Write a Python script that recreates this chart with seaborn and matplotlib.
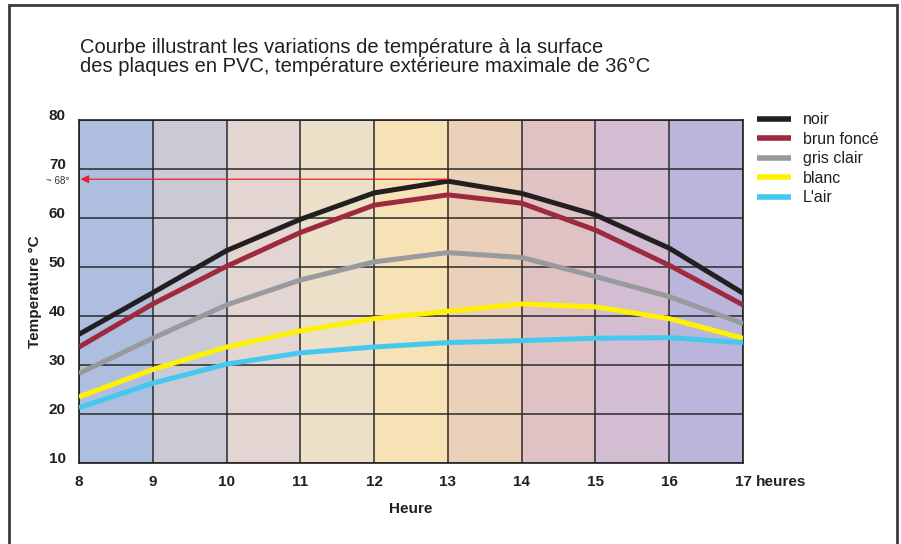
"""PVC surface temperature curves over the day."""

import matplotlib
matplotlib.use("Agg")
import matplotlib.pyplot as plt
import matplotlib.patches as mpatches
import matplotlib.transforms as mtransforms
import pandas as pd
import seaborn as sns

hours = [8, 9, 10, 11, 12, 13, 14, 15, 16, 17]
noir = [36.3, 44.8, 53.4, 59.8, 65.2, 67.6, 65.1, 60.7, 53.9, 44.7]
brun_fonce = [33.7, 42.5, 50.2, 57.1, 62.7, 64.8, 63.1, 57.6, 50.4, 42.3]
gris_clair = [28.3, 35.5, 42.3, 47.4, 51.1, 53.0, 52.0, 48.1, 44.0, 38.5]
blanc = [23.5, 29.1, 33.7, 37.0, 39.5, 41.0, 42.5, 41.9, 39.5, 35.5]
air = [21.3, 26.3, 30.2, 32.5, 33.7, 34.6, 35.0, 35.5, 35.6, 34.6]

series_names = ["noir", "brun foncé", "gris clair", "blanc", "L'air"]
series_colors = ["#231f20", "#9e2a3f", "#999a9e", "#fff200", "#45c8f0"]
band_colors = ["#aebedf", "#c9cad5", "#e2d5d2", "#ede0c8", "#f7e2b5",
               "#ecd1ba", "#e0c2c4", "#d3bdd2", "#bab6db"]
y_ticks = [10, 20, 30, 40, 50, 60, 70, 80]
x_labels = ["8", "9", "10", "11", "12", "13", "14", "15", "16", "17"]
peak_value = 68

sns.set_theme(style="white")
plt.rcParams["font.family"] = ["Liberation Sans", "DejaVu Sans"]
BOLD = dict(fontsize=11, fontweight="bold", color="#231f20")

frames = []
for name, vals in zip(series_names, [noir, brun_fonce, gris_clair, blanc, air]):
    frames.append(pd.DataFrame({"heure": hours, "temp": vals, "serie": name}))
df = pd.concat(frames, ignore_index=True)

fig = plt.figure(figsize=(9.01, 5.44), dpi=100)
ax = fig.add_axes([0.0877, 0.149, 0.737, 0.6295])

# coloured hour bands
for i, c in enumerate(band_colors):
    ax.axvspan(hours[i], hours[i + 1], color=c, zorder=0, lw=0)
for h in hours:
    ax.axvline(h, color="#2a2a2a", lw=1.1, zorder=1)
for t in y_ticks:
    ax.axhline(t, color="#2a2a2a", lw=1.1, zorder=1)

sns.lineplot(data=df, x="heure", y="temp", hue="serie", hue_order=series_names,
             palette=series_colors, lw=3.6, ax=ax, legend=False, zorder=3,
             solid_capstyle="butt")

# ~68 degree marker
ax.annotate("", xy=(hours[0] + 0.02, peak_value), xytext=(13.0, peak_value),
            arrowprops=dict(arrowstyle="-|>", color="#e8202a", lw=0.9,
                            mutation_scale=12, shrinkA=0, shrinkB=0), zorder=4)
ax.annotate("~ 68°", xy=(8, peak_value), xytext=(-7, -1.5), textcoords="offset points",
            fontsize=7, ha="right", va="center", color="#333333")

ax.set_xlim(8, 17)
ax.set_ylim(10, 80)
ax.set_xticks(hours)
ax.set_xticklabels(x_labels)
ax.set_yticks(y_ticks)
for lab in ax.get_xticklabels() + ax.get_yticklabels():
    lab.set_fontweight("bold")
    lab.set_fontsize(11)
    lab.set_color("#231f20")
# y labels sit just above their grid lines
for lab in ax.get_yticklabels():
    lab.set_verticalalignment("baseline")
ax.tick_params(axis="x", length=0, pad=9)
ax.tick_params(axis="y", length=0, pad=9.5)
for s in ax.spines.values():
    s.set_color("#231f20")
    s.set_linewidth(1.2)

trans = mtransforms.blended_transform_factory(ax.transData, ax.transAxes)
ax.annotate("heures", xy=(17, 0), xycoords=trans, xytext=(9.5, -9),
            textcoords="offset points", ha="left", va="top", **BOLD)

ax.set_xlabel("Heure", labelpad=9, **BOLD)
ax.set_ylabel("Temperature °C", labelpad=5, **BOLD)

handles = [plt.Line2D([], [], color=c, lw=4, solid_capstyle="butt") for c in series_colors]
fig.legend(handles, series_names, loc="upper left", bbox_to_anchor=(0.8315, 0.808),
           frameon=False, fontsize=11.5, handlelength=2.1, handletextpad=0.75,
           labelspacing=0.28, borderpad=0, labelcolor="#231f20")

fig.text(0.089, 0.86, "Courbe illustrant les variations de température à la surface\n"
         "des plaques en PVC, température extérieure maximale de 36°C",
         fontsize=14.5, color="#231f20", ha="left", va="bottom", linespacing=1.0)

# outer frame
frame = mpatches.Rectangle((9 / 901, -0.05), 888 / 901, 1.05 - 5 / 544,
                           transform=fig.transFigure, fill=False,
                           edgecolor="#3a3a3a", lw=2, clip_on=False)
fig.patches.append(frame)

fig.savefig("out.png", dpi=100)
